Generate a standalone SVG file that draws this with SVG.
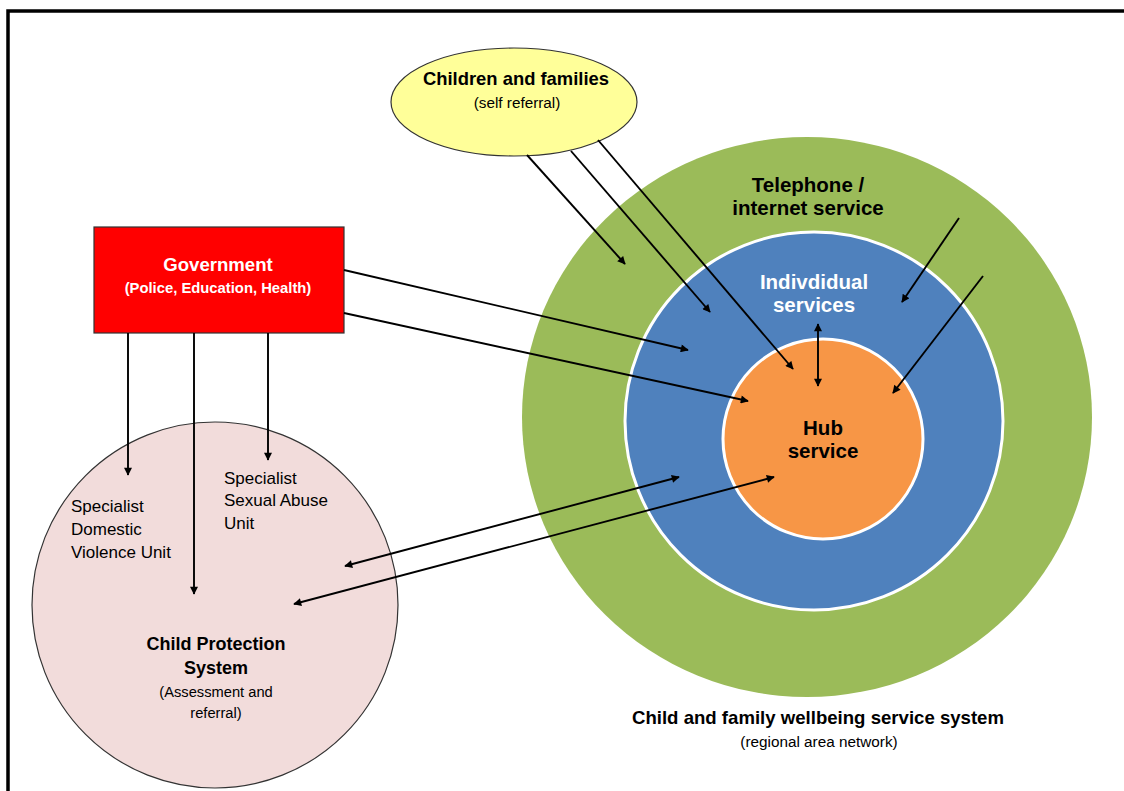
<svg xmlns="http://www.w3.org/2000/svg" width="1124" height="791" viewBox="0 0 1124 791">
  <style>
    .t { font-family: "Liberation Sans", Arial, sans-serif; }
    .b { font-weight: bold; }
    .c { text-anchor: middle; }
    .link { stroke: #000; stroke-width: 1.9; fill: none; marker-end: url(#head); }
    .both { marker-start: url(#head); }
  </style>
  <defs>
    <marker id="head" viewBox="0 0 10 10" refX="9" refY="5" markerWidth="9" markerHeight="8" orient="auto-start-reverse" markerUnits="userSpaceOnUse">
      <path d="M0,0 L10,5 L0,10 z" fill="#000"/>
    </marker>
  </defs>

  <rect width="1124" height="791" fill="#fff"/>
  <!-- page frame (left and top edges) -->
  <path d="M8,791 V11 H1124" fill="none" stroke="#000" stroke-width="3.5"/>

  <!-- nested service system -->
  <g id="telephone-internet">
    <ellipse cx="807" cy="417" rx="285" ry="280" fill="#9bbb59"/>
    <text class="t b c" x="808" y="192" font-size="20.5" fill="#000">Telephone /</text>
    <text class="t b c" x="808" y="215" font-size="20.5" fill="#000">internet service</text>
  </g>
  <g id="individual-services">
    <circle cx="814" cy="421" r="189" fill="#4f81bd" stroke="#fff" stroke-width="3"/>
    <text class="t b c" x="814" y="289" font-size="20.5" fill="#fff">Indivdidual</text>
    <text class="t b c" x="814" y="312" font-size="20.5" fill="#fff">services</text>
  </g>
  <g id="hub-service">
    <circle cx="823" cy="439" r="100" fill="#f79646" stroke="#fff" stroke-width="3"/>
    <text class="t b c" x="823" y="435" font-size="20.5" fill="#000">Hub</text>
    <text class="t b c" x="823" y="458" font-size="20.5" fill="#000">service</text>
  </g>
  <g id="system-label">
    <text class="t b c" x="818" y="724" font-size="18.6" fill="#000">Child and family wellbeing service system</text>
    <text class="t c" x="819" y="747" font-size="15.3" fill="#000">(regional area network)</text>
  </g>

  <g id="children-families">
    <ellipse cx="514" cy="102" rx="123" ry="54" fill="#ffff99" stroke="#333" stroke-width="1.2"/>
    <text class="t b c" x="516" y="85" font-size="18.4" fill="#000">Children and families</text>
    <text class="t c" x="517" y="108" font-size="15.3" fill="#000">(self referral)</text>
  </g>

  <g id="government">
    <rect x="94" y="227" width="250" height="106" fill="#ff0000" stroke="#333" stroke-width="1.2"/>
    <text class="t b c" x="218" y="271" font-size="18.6" fill="#fff">Government</text>
    <text class="t b c" x="218" y="293" font-size="14.8" fill="#fff">(Police, Education, Health)</text>
  </g>

  <g id="child-protection">
    <circle cx="215" cy="605" r="183" fill="#f2dcdb" stroke="#333" stroke-width="1.2"/>
    <text class="t" x="71" y="512" font-size="17" fill="#000">Specialist</text>
    <text class="t" x="71" y="535" font-size="17" fill="#000">Domestic</text>
    <text class="t" x="71" y="558" font-size="17" fill="#000">Violence Unit</text>
    <text class="t" x="224" y="484" font-size="17" fill="#000">Specialist</text>
    <text class="t" x="224" y="506" font-size="17" fill="#000">Sexual Abuse</text>
    <text class="t" x="224" y="529" font-size="17" fill="#000">Unit</text>
    <text class="t b c" x="216" y="650" font-size="18" fill="#000">Child Protection</text>
    <text class="t b c" x="216" y="674" font-size="18" fill="#000">System</text>
    <text class="t c" x="216" y="697" font-size="14.7" fill="#000">(Assessment and</text>
    <text class="t c" x="216" y="718" font-size="14.7" fill="#000">referral)</text>
  </g>

  <g id="connectors">
    <!-- government down into the child protection units -->
    <line class="link" x1="128" y1="333" x2="128" y2="475"/>
    <line class="link" x1="194" y1="333" x2="194" y2="594"/>
    <line class="link" x1="268" y1="333" x2="268" y2="460"/>
    <!-- government into the service system -->
    <line class="link" x1="344" y1="270" x2="688" y2="350"/>
    <line class="link" x1="344" y1="313" x2="748" y2="401"/>
    <!-- self referral -->
    <line class="link" x1="527" y1="155" x2="625" y2="264"/>
    <line class="link" x1="571" y1="151" x2="710" y2="312"/>
    <line class="link" x1="598" y1="140" x2="793" y2="369"/>
    <!-- telephone / internet inward -->
    <line class="link" x1="959" y1="218" x2="902" y2="302"/>
    <line class="link" x1="983" y1="276" x2="893" y2="393"/>
    <!-- individual services <-> hub -->
    <line class="link both" x1="818" y1="324" x2="818" y2="386"/>
    <!-- child protection <-> service system -->
    <line class="link both" x1="345" y1="566" x2="679" y2="477"/>
    <line class="link both" x1="294" y1="604" x2="774" y2="477"/>
  </g>
</svg>
